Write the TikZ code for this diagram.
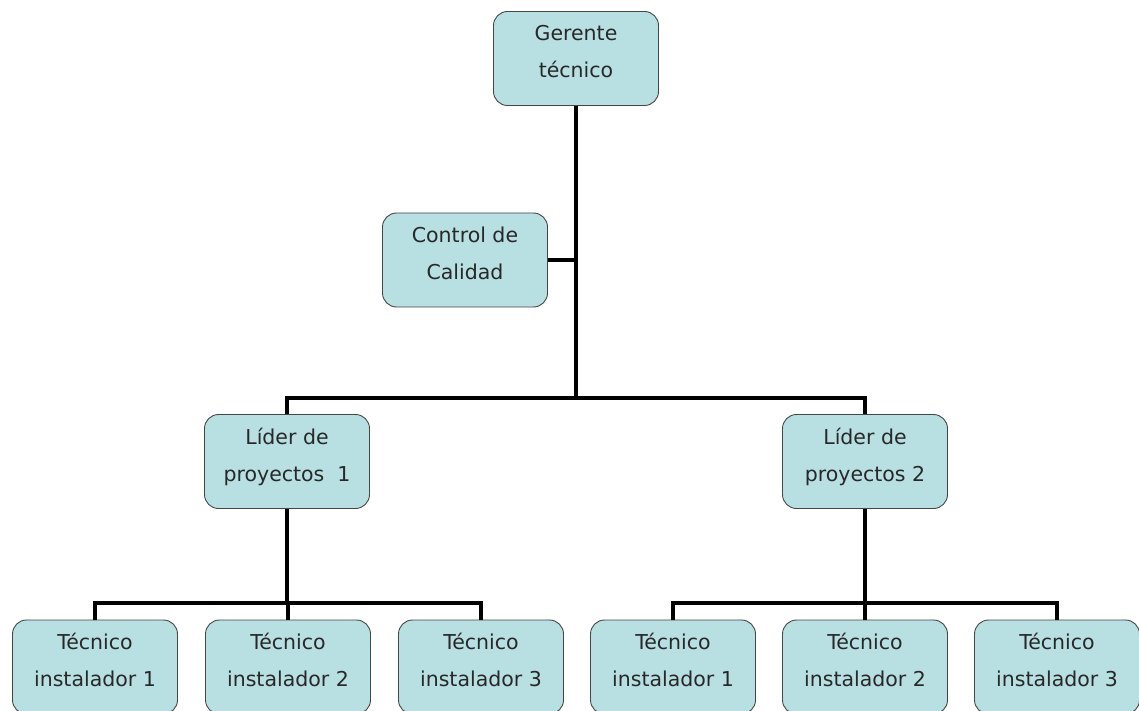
\documentclass[tikz,border=0pt]{standalone}
\usepackage{fontspec}
\setmainfont{DejaVu Sans}
\definecolor{boxfill}{RGB}{184,224,227}
\definecolor{boxline}{RGB}{70,70,70}
\definecolor{txt}{RGB}{40,40,40}
\begin{document}
\begin{tikzpicture}[x=1pt,y=-1pt,
  orgbox/.style={draw=boxline,line width=0.9pt,fill=boxfill,rounded corners=14pt,
    minimum width=165pt,minimum height=94pt,align=center,inner sep=0pt,
    text height=52pt,text depth=13pt,
    text=txt,font=\fontsize{20.5}{37}\selectfont},
  conn/.style={line width=4pt,line join=miter,draw=black}]
\useasboundingbox (0,0) rectangle (1139,711);
\node[orgbox] (g) at (576,58.5) {Gerente\\técnico};
\node[orgbox] (c) at (465,260) {Control de\\Calidad};
\node[orgbox] (l1) at (287,461.5) {Líder de\\proyectos\ \ 1};
\node[orgbox] (l2) at (865,461.5) {Líder de\\proyectos 2};
\node[orgbox] (t1) at (95,667) {Técnico\\instalador 1};
\node[orgbox] (t2) at (288,667) {Técnico\\instalador 2};
\node[orgbox] (t3) at (481,667) {Técnico\\instalador 3};
\node[orgbox] (t4) at (673,667) {Técnico\\instalador 1};
\node[orgbox] (t5) at (865,667) {Técnico\\instalador 2};
\node[orgbox] (t6) at (1057,667) {Técnico\\instalador 3};
\coordinate (busT) at (576,398);
\coordinate (busL) at (287,603);
\coordinate (busR) at (865,603);
\draw[conn] (g.south) -- (busT);
\draw[conn] (c.east) -- (c.east -| busT);
\draw[conn] (l1.north) -- (l1.north |- busT) -- (l2.north |- busT) -- (l2.north);
\draw[conn] (l1.south) -- (busL);
\draw[conn] (t1.north) -- (t1.north |- busL) -- (t3.north |- busL) -- (t3.north);
\draw[conn] (t2.north) -- (t2.north |- busL);
\draw[conn] (l2.south) -- (busR);
\draw[conn] (t4.north) -- (t4.north |- busR) -- (t6.north |- busR) -- (t6.north);
\draw[conn] (t5.north) -- (t5.north |- busR);
\end{tikzpicture}
\end{document}
